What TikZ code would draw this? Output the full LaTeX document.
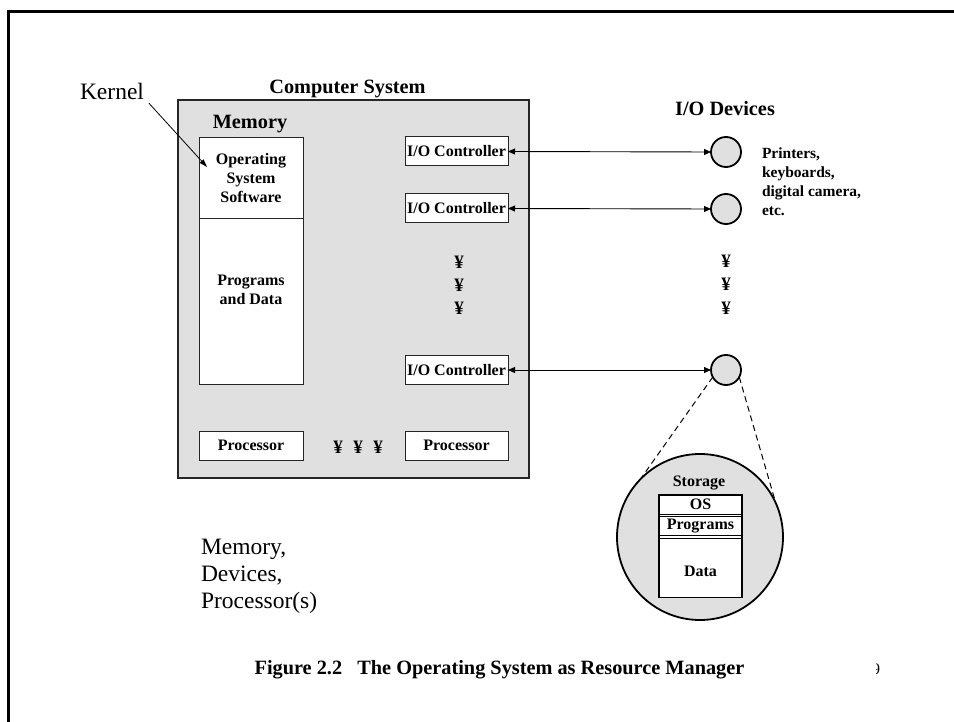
\documentclass[tikz,border=0pt]{standalone}
\usepackage{fontspec}
\setmainfont{Liberation Serif}
\usetikzlibrary{arrows.meta}
\definecolor{panel}{RGB}{224,224,224}
\begin{document}
\begin{tikzpicture}[x=1pt,y=-1pt,
  every node/.style={inner sep=0pt, outer sep=0pt},
  headb/.style={font=\fontsize{20.3}{24}\selectfont\bfseries},
  smallb/.style={font=\fontsize{16}{19}\selectfont\bfseries},
  devtext/.style={font=\fontsize{15.5}{19}\selectfont\bfseries},
  regtext/.style={font=\fontsize{23.5}{27}\selectfont},
  yen/.style={font=\fontsize{19}{19}\selectfont\bfseries},
  wbox/.style={draw=black!85, line width=1pt, fill=white},
  dev/.style={circle, draw=black, line width=1.8pt, fill=panel, minimum size=30pt},
  link/.style={line width=0.9pt, {Triangle[length=7pt,width=6pt]}-{Triangle[length=7pt,width=6pt]}},
  tipline/.style={line width=0.8pt, -{Triangle[length=8pt,width=5pt]}},
  zoomline/.style={line width=1pt, dash pattern=on 6pt off 4pt}
]
\useasboundingbox (0,0) rectangle (954,722);
\fill[white] (0,0) rectangle (954,722);
% page frame
\draw[line width=3pt] (8,722) -- (8,11.5) -- (954,11.5);

% computer system
\node[draw=black!85, line width=2pt, fill=panel, minimum width=351pt, minimum height=378pt] (cs) at (353.5,289) {};
\node[headb, anchor=base] (cstitle) at (347.5,94) {Computer System};
\node[headb, anchor=base] (memtitle) at (250,129) {Memory};

% memory
\node[wbox, minimum width=104pt, minimum height=81pt] (osbox) at (251,178.5) {};
\node[smallb, align=center] (ostext) at (251,178) {Operating\\System\\Software};
\node[wbox, minimum width=104pt, minimum height=165pt] (progbox) at (251,301.5) {};
\node[smallb, align=center] (progtext) at (251,289.5) {Programs\\and Data};

% I/O controllers
\node[wbox, smallb, minimum width=103pt, minimum height=29pt] (ioc1) at (456.5,151.5) {I/O Controller};
\node[wbox, smallb, minimum width=103pt, minimum height=29pt] (ioc2) at (456.5,208.5) {I/O Controller};
\node[wbox, smallb, minimum width=103pt, minimum height=29pt] (ioc3) at (456.5,370) {I/O Controller};
\node[yen] (y1) at (459,262) {¥};
\node[yen] (y2) at (459,285) {¥};
\node[yen] (y3) at (459,308) {¥};

% processors
\node[wbox, smallb, minimum width=104pt, minimum height=29pt] (proc1) at (251,445.5) {Processor};
\node[wbox, smallb, minimum width=103pt, minimum height=29pt] (proc2) at (456.5,445.5) {Processor};
\node[yen] (py1) at (338,447) {¥};
\node[yen] (py2) at (358,447) {¥};
\node[yen] (py3) at (378,447) {¥};

% kernel
\node[regtext, anchor=base] (kern) at (112,100) {Kernel};
\coordinate (kend) at (207,167);
\draw[tipline] ([shift={(5,3)}]kern.south east) -- (kend);

% devices
\node[headb, anchor=base] (iodev) at (725,116) {I/O Devices};
\node[dev] (d1) at (726,152) {};
\node[dev] (d2) at (726,209) {};
\node[dev] (d3) at (726,370) {};
\node[yen] (dy1) at (726,261) {¥};
\node[yen] (dy2) at (726,284) {¥};
\node[yen] (dy3) at (726,308) {¥};
\node[devtext, align=left, anchor=north west] (devlist) at (762,147.5) {Printers,\\keyboards,\\digital camera,\\etc.};

\draw[link] (ioc1.east) -- (d1.west);
\draw[link] (ioc2.east) -- (d2.west);
\draw[link] (ioc3.east) -- (d3.west);

% storage
\node[circle, draw=black, line width=1.8pt, fill=panel, minimum size=166pt] (stor) at (700,537) {};
\draw[zoomline] (d3.208) -- (stor.136);
\draw[zoomline] (d3.332) -- (stor.24);
\node[smallb, anchor=base] (stitle) at (699,486.7) {Storage};
\node[draw=black, line width=1.4pt, fill=white, minimum width=83pt, minimum height=102pt] (sbox) at (700.5,546) {};
\node[draw=black, line width=1.2pt, fill=white, smallb, minimum width=83pt, minimum height=19pt] (sos) at (700.5,504.6) {OS};
\node[draw=black, line width=1.2pt, fill=white, smallb, minimum width=83pt, minimum height=18.5pt] (sprog) at (700.5,526) {Programs};
\node[draw=black, line width=1.2pt, fill=white, minimum width=83pt, minimum height=59pt] (sdata) at (700.5,567.6) {};
\node[smallb, anchor=base] (sdatatext) at (700.5,576.7) {Data};

% resources text
\node[regtext, align=left, anchor=north west] (res) at (201,539.5) {Memory,\\Devices,\\Processor(s)};

% caption
\node[headb, anchor=base] (cap) at (499.5,674) {Figure 2.2\hspace{0.75em}The Operating System as Resource Manager};
\begin{scope}
\clip (876,655) rectangle (892,680);
\node[font=\fontsize{16}{16}\selectfont, anchor=base] (pagenum) at (876,674) {9};
\end{scope}
\end{tikzpicture}
\end{document}
